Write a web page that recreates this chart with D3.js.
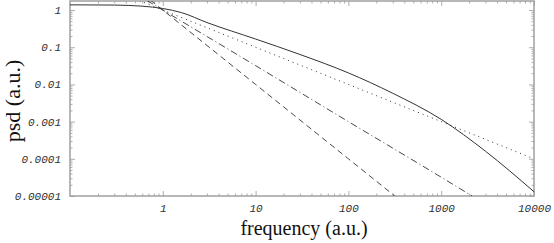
<!DOCTYPE html>
<html>
<head>
<meta charset="utf-8">
<script src="https://cdn.jsdelivr.net/npm/d3@7"></script>
<style>
body{margin:0;background:#fff;}
.axis text{font-family:"Liberation Mono",monospace;font-style:italic;font-size:11px;fill:#333;}
.axis path{display:none;}
.axis line{stroke:#999;stroke-width:0.8;}
.title{font-family:"Liberation Serif",serif;fill:#111;}
</style>
</head>
<body>
<script>
//values
const solidFreq = [0.1, 0.3, 0.6, 1, 1.6, 3, 10, 30, 100, 300, 1000, 3000, 10000];
const solidPsd  = [1.38, 1.36, 1.27, 1.1, 0.85, 0.46, 0.166, 0.064, 0.0204, 0.0058, 0.00115, 0.00016, 0.000013];
const dotFreq = [0.5, 1, 10, 100, 1000, 10000];
const dotPsd  = [2, 1, 0.1, 0.01, 0.001, 0.0001];
const dashDotFreq = [0.5, 1, 10, 100, 1000, 2150];
const dashDotPsd  = [2.83, 1, 0.032, 0.001, 0.000032, 0.00001];
const dashFreq = [0.5, 1, 10, 100, 316];
const dashPsd  = [4, 1, 0.01, 0.0001, 0.00001];
const xTickVals = [1, 10, 100, 1000, 10000];
const xTickLabels = ["1", "10", "100", "1000", "10000"];
const yTickVals = [1, 0.1, 0.01, 0.001, 0.0001, 0.00001];
const yTickLabels = ["1", "0.1", "0.01", "0.001", "0.0001", "0.00001"];

const width = 554, height = 243;
const margin = {left: 70, right: 534, top: 1, bottom: 196};

let svg = d3.select("body").append("svg")
	.attr("width", width)
	.attr("height", height);

let x = d3.scaleLog().domain([0.1, 10000]).range([margin.left, margin.right]);
let y = d3.scaleLog().domain([0.00001, 1.75]).range([margin.bottom, margin.top]);

//minor ticks at 2..9 of each decade
let xMinor = [], yMinor = [];
for (let e = -1; e < 4; e++) for (let k = 2; k < 10; k++) xMinor.push(k * Math.pow(10, e));
for (let e = -5; e < 1; e++) for (let k = 2; k < 10; k++) { let v = k * Math.pow(10, e); if (v < 1.75) yMinor.push(v); }

svg.append("defs").append("clipPath").attr("id", "clip")
	.append("rect").attr("x", margin.left).attr("y", margin.top)
	.attr("width", margin.right - margin.left).attr("height", margin.bottom - margin.top);

//bottom axis
svg.append("g").attr("class", "axis")
	.attr("transform", "translate(0," + margin.bottom + ")")
	.call(d3.axisBottom(x).tickValues(xMinor).tickSize(-2.5).tickFormat(""));
svg.append("g").attr("class", "axis")
	.attr("transform", "translate(0," + margin.bottom + ")")
	.call(d3.axisBottom(x).tickValues(xTickVals).tickSize(-5).tickPadding(8)
		.tickFormat((d, i) => xTickLabels[i]));
//top axis
svg.append("g").attr("class", "axis")
	.attr("transform", "translate(0," + margin.top + ")")
	.call(d3.axisTop(x).tickValues(xMinor).tickSize(-2.5).tickFormat(""));
svg.append("g").attr("class", "axis")
	.attr("transform", "translate(0," + margin.top + ")")
	.call(d3.axisTop(x).tickValues(xTickVals).tickSize(-5).tickFormat(""));
//left axis
svg.append("g").attr("class", "axis")
	.attr("transform", "translate(" + margin.left + ",0)")
	.call(d3.axisLeft(y).tickValues(yMinor).tickSize(-2.5).tickFormat(""));
svg.append("g").attr("class", "axis")
	.attr("transform", "translate(" + margin.left + ",0)")
	.call(d3.axisLeft(y).tickValues(yTickVals).tickSize(-5).tickPadding(9)
		.tickFormat((d, i) => yTickLabels[i]));
//right axis
svg.append("g").attr("class", "axis")
	.attr("transform", "translate(" + margin.right + ",0)")
	.call(d3.axisRight(y).tickValues(yMinor).tickSize(-2.5).tickFormat(""));
svg.append("g").attr("class", "axis")
	.attr("transform", "translate(" + margin.right + ",0)")
	.call(d3.axisRight(y).tickValues(yTickVals).tickSize(-5).tickFormat(""));

//frame
svg.append("rect")
	.attr("x", margin.left).attr("y", margin.top)
	.attr("width", margin.right - margin.left).attr("height", margin.bottom - margin.top)
	.attr("fill", "none").attr("stroke", "#a0a0a0").attr("stroke-width", 1.5);

let line = d3.line()
	.x(d => x(d[0]))
	.y(d => y(d[1]))
	.curve(d3.curveMonotoneX);

let g = svg.append("g").attr("clip-path", "url(#clip)");
const series = [
	{f: solidFreq, p: solidPsd, dash: null, w: 1},
	{f: dotFreq, p: dotPsd, dash: "1,4", w: 1},
	{f: dashDotFreq, p: dashDotPsd, dash: "7,3,1,3", w: 0.9},
	{f: dashFreq, p: dashPsd, dash: "6,4", w: 0.9}
];
series.forEach(s => {
	g.append("path")
		.datum(s.f.map((f, i) => [f, s.p[i]]))
		.attr("d", line)
		.attr("fill", "none")
		.attr("stroke", "#333")
		.attr("stroke-width", s.w)
		.attr("stroke-dasharray", s.dash);
});

//axis titles
svg.append("text")
	.attr("class", "title")
	.attr("x", 304).attr("y", 235)
	.attr("font-size", 20)
	.attr("text-anchor", "middle")
	.text("frequency (a.u.)");
svg.append("text")
	.attr("class", "title")
	.attr("transform", "translate(20,101) rotate(-90)")
	.attr("font-size", 22)
	.attr("text-anchor", "middle")
	.text("psd (a.u.)");
</script>
</body>
</html>
